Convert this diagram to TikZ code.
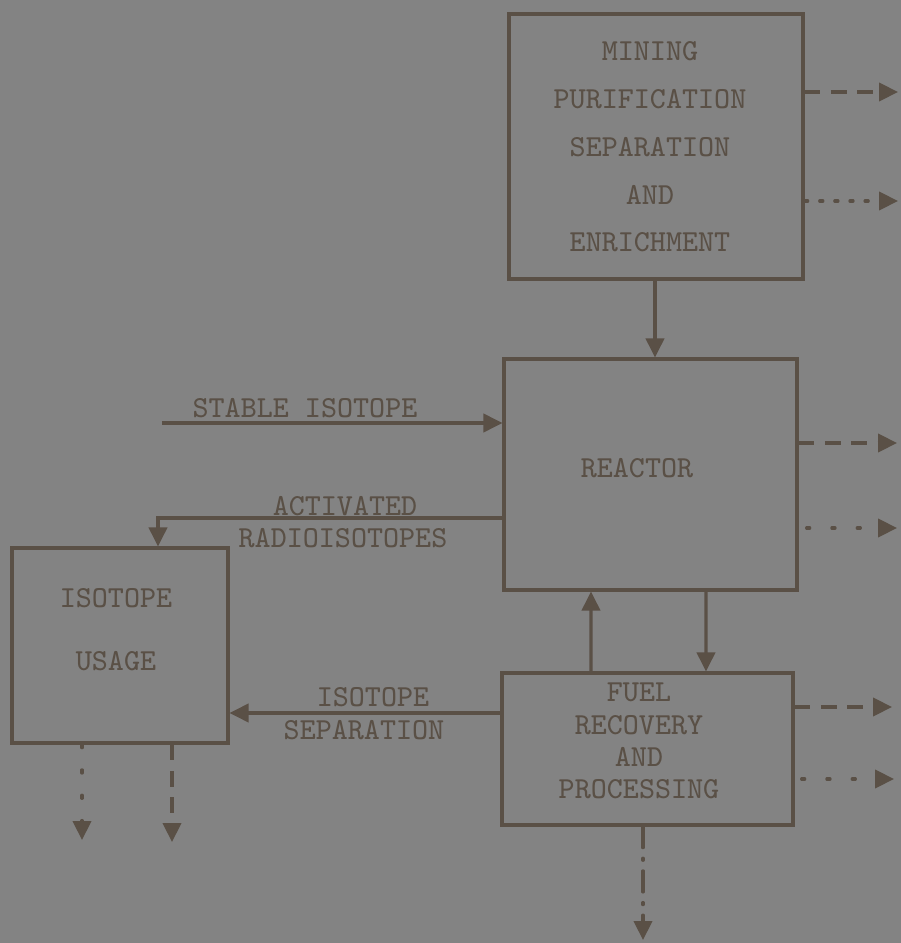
\documentclass[tikz,border=0pt]{standalone}
\usepackage{fontspec}
\usepackage{tikz}
\usetikzlibrary{arrows.meta}

\definecolor{paper}{RGB}{131,131,131}
\definecolor{ink}{RGB}{90,80,70}

\tikzset{
  stage/.style={draw=ink, line width=0.9pt, rectangle, inner sep=0pt},
  txt/.style={text=ink, font=\ttfamily\fontsize{8.7}{10}\selectfont, align=center, inner sep=1pt},
  arr/.style={draw=ink, line width=0.9pt, -{Triangle[length=5.4pt,width=5.2pt]}},
  dashline/.style={dash pattern=on 4.5pt off 3pt},
  dotline/.style={line cap=round, dash pattern=on 0.9pt off 6.3pt},
  finedotline/.style={line cap=round, dash pattern=on 0.9pt off 3.4pt},
  dashdotline/.style={line cap=round, dash pattern=on 6pt off 3pt on 0.6pt off 3pt}
}

\begin{document}
\begin{tikzpicture}
            % Background sheet
            \fill[paper] (0,0) rectangle (9.01,9.43);
            \useasboundingbox (0,0) rectangle (9.01,9.43);

            % Boxes
            \node[stage, minimum width=2.94cm, minimum height=2.65cm] (mining) at (6.56,7.965) {};
            \node[stage, minimum width=2.93cm, minimum height=2.31cm] (reactor) at (6.505,4.685) {};
            \node[stage, minimum width=2.16cm, minimum height=1.95cm] (usage) at (1.20,2.975) {};
            \node[stage, minimum width=2.91cm, minimum height=1.52cm] (fuel) at (6.475,1.94) {};

            % Box texts
            \node[txt] (miningtxt) at (6.50,7.96) {MINING\\[3.6pt] PURIFICATION\\[3.6pt] SEPARATION\\[3.6pt] AND\\[3.6pt] ENRICHMENT};
            \node[txt] (reactortxt) at (6.37,4.75) {REACTOR};
            \node[txt] (usagetxt) at (1.16,3.135) {ISOTOPE\\[8pt] USAGE};
            \node[txt] (fueltxt) at (6.39,2.02) {FUEL\\[-0.8pt] RECOVERY\\[-0.8pt] AND\\[-0.8pt] PROCESSING};

            % Free ends
            \coordinate (stab) at (1.62,5.20);
            \coordinate (mdash) at (8.98,8.51);
            \coordinate (mdot) at (8.98,7.42);
            \coordinate (rdash) at (8.97,5.00);
            \coordinate (rdot) at (8.97,4.15);
            \coordinate (fdash) at (8.92,2.36);
            \coordinate (fdot) at (8.94,1.64);
            \coordinate (udot) at (0.82,1.03);
            \coordinate (udash) at (1.72,1.01);
            \coordinate (fdown) at (6.43,0.03);

            % Main flow
            \draw[arr] (mining.south -| 6.55,0) -- (reactor.north -| 6.55,0);
            \draw[arr] (stab) -- (stab -| reactor.west);
            \draw[arr] ([yshift=-4.35mm]reactor.west) -| ([xshift=3.8mm]usage.north);
            \draw[arr] ([xshift=-5.65mm]fuel.north) -- ([xshift=-5.95mm]reactor.south);
            \draw[arr] ([xshift=5.55mm]reactor.south) -- ([xshift=5.85mm]fuel.north);
            \draw[arr] ([yshift=3.6mm]fuel.west) -- ([yshift=3.6mm]fuel.west -| usage.east);

            % Flow labels
            \node[txt] (stablbl) at (3.05,5.35) {STABLE ISOTOPE};
            \node[txt] (actlbl) at (3.45,4.37) {ACTIVATED};
            \node[txt] (radlbl) at (3.43,4.05) {RADIOISOTOPES};
            \node[txt] (seplbl) at (3.73,2.46) {ISOTOPE};
            \node[txt] (sep2lbl) at (3.64,2.13) {SEPARATION};

            % Waste outputs
            \draw[arr, dashline] (mdash -| mining.east) -- (mdash);
            \draw[arr, finedotline] (mdot -| mining.east) -- (mdot);
            \draw[arr, dashline] (rdash -| reactor.east) -- (rdash);
            \draw[arr, dotline] ([xshift=0.8mm]rdot -| reactor.east) -- (rdot);
            \draw[arr, dashline] (fdash -| fuel.east) -- (fdash);
            \draw[arr, dotline] ([xshift=0.7mm]fdot -| fuel.east) -- (fdot);
            \draw[arr, dotline] (udot |- usage.south) -- (udot);
            \draw[arr, dashline] (udash |- usage.south) -- (udash);
            \draw[arr, dashdotline] (fdown |- fuel.south) -- (fdown);
\end{tikzpicture}
\end{document}
